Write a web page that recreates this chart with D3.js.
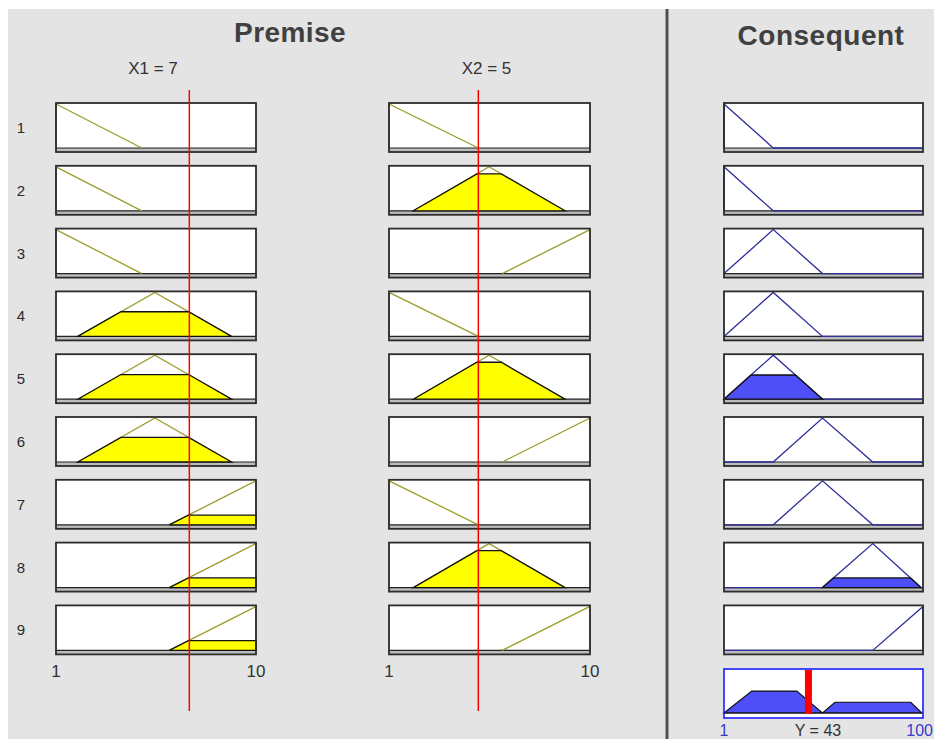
<!DOCTYPE html>
<html>
<head>
<meta charset="utf-8">
<script src="https://cdn.jsdelivr.net/npm/d3@7"></script>
<style>
  body { margin: 0; background: #fff; }
  text { font-family: Arial, "Liberation Sans", sans-serif; }
</style>
</head>
<body>
<svg id="chart" width="934" height="739"></svg>
<script>
const ruleIds = [1, 2, 3, 4, 5, 6, 7, 8, 9];
const inputNames = ["X1", "X2"];
const inputValues = [7, 5];
const inputRange = [1, 10];
const outputRange = [1, 100];
const inputTicks = [1, 10];
const outputTicks = [1, 100];

// membership functions as [a, b, c, d] (triangle when b == c)
const x1Mfs = [[1, 1, 1, 4.86], [1.98, 5.45, 5.45, 8.9], [6.1, 10, 10, 10]];
const x2Mfs = [[1, 1, 1, 5], [2.09, 5.48, 5.48, 8.88], [6.07, 10, 10, 10]];
const yMfs = [[1, 1, 1, 25.5], [1, 25.5, 25.5, 50], [25.5, 50, 50, 75], [50, 75, 75, 99], [75, 100, 100, 100]];

const ruleX1 = [0, 0, 0, 1, 1, 1, 2, 2, 2];
const ruleX2 = [0, 1, 2, 0, 1, 2, 0, 1, 2];
const ruleY = [0, 0, 1, 1, 1, 2, 2, 3, 4];

const x1Degrees = [0, 0.56, 0.22];
const x2Degrees = [0, 0.84, 0];
const ruleStrengths = [0, 0, 0, 0, 0.55, 0, 0, 0.22, 0];

const aggregate = [[1, 0], [14.8, 0.51], [37.2, 0.51], [50, 0], [56.2, 0.25], [93.9, 0.25], [99.4, 0]];
const outputValue = 43;

// layout
const svg = d3.select("#chart");
const boxH = 49;
const rowTop = i => 103 + i * 62.8;
const cols = [
    { x: 56, w: 200 },
    { x: 389, w: 201 },
    { x: 724, w: 199 }
];
const olive = "#9c9c2c";
const navy = "#2e2e9c";

svg.append("rect")
    .attr("x", 8).attr("y", 9)
    .attr("width", 926).attr("height", 730)
    .attr("fill", "#e4e4e4");

// divider between premise and consequent
svg.append("line")
    .attr("x1", 667).attr("x2", 667)
    .attr("y1", 9).attr("y2", 739)
    .attr("stroke", "#505050")
    .attr("stroke-width", 3);

svg.append("text")
    .attr("x", 290).attr("y", 42)
    .text("Premise")
    .style("font-size", "28px").style("font-weight", "bold")
    .style("letter-spacing", "0.4px")
    .style("text-anchor", "middle").style("fill", "#404040");

svg.append("text")
    .attr("x", 821).attr("y", 45)
    .text("Consequent")
    .style("font-size", "28px").style("font-weight", "bold")
    .style("letter-spacing", "0.5px")
    .style("text-anchor", "middle").style("fill", "#404040");

function clipped(p, h) {
    return [[p[0], 0], [p[0] + h * (p[1] - p[0]), h], [p[3] - h * (p[3] - p[2]), h], [p[3], 0]];
}

function drawBox(col, top, mf, degree, domain, isOutput) {
    let xScale = d3.scaleLinear().domain(domain).range([col.x, col.x + col.w]);
    let yScale = d3.scaleLinear().domain([0, 1]).range([top + 45, top + 1]);
    let line = d3.line().x(d => xScale(d[0])).y(d => yScale(d[1]));
    let g = svg.append("g");

    g.append("rect")
        .attr("x", col.x).attr("y", top)
        .attr("width", col.w).attr("height", boxH)
        .attr("fill", "#fff");
    g.append("rect")
        .attr("x", col.x).attr("y", top + 45)
        .attr("width", col.w).attr("height", boxH - 45)
        .attr("fill", "#bcbcbc");
    g.append("line")
        .attr("x1", col.x).attr("x2", col.x + col.w)
        .attr("y1", yScale(0)).attr("y2", yScale(0))
        .attr("stroke", "#222").attr("stroke-width", 1.2);

    let pts = [[mf[0], 0], [mf[1], 1], [mf[2], 1], [mf[3], 0]];
    if (isOutput) pts = [[domain[0], 0]].concat(pts, [[domain[1], 0]]);
    g.append("path")
        .attr("d", line(pts))
        .attr("fill", "none")
        .attr("stroke", isOutput ? navy : olive)
        .attr("stroke-width", 1.3);

    if (degree > 0) {
        g.append("path")
            .attr("d", line(clipped(mf, degree)) + "Z")
            .attr("fill", isOutput ? "#4f4ff8" : "#ffff00")
            .attr("stroke", "#111")
            .attr("stroke-width", 1.3);
    }

    g.append("rect")
        .attr("x", col.x).attr("y", top)
        .attr("width", col.w).attr("height", boxH)
        .attr("fill", "none")
        .attr("stroke", "#2c2c2c")
        .attr("stroke-width", 1.8);
}

ruleIds.forEach((id, i) => {
    let top = rowTop(i);
    svg.append("text")
        .attr("x", 21).attr("y", top + 30)
        .text(id)
        .style("font-size", "15px")
        .style("text-anchor", "middle").style("fill", "#2a2a2a");
    drawBox(cols[0], top, x1Mfs[ruleX1[i]], x1Degrees[ruleX1[i]], inputRange, false);
    drawBox(cols[1], top, x2Mfs[ruleX2[i]], x2Degrees[ruleX2[i]], inputRange, false);
    drawBox(cols[2], top, yMfs[ruleY[i]], ruleStrengths[i], outputRange, true);
});

// input labels, ticks and red value lines
inputNames.forEach((name, k) => {
    let col = cols[k];
    let xScale = d3.scaleLinear().domain(inputRange).range([col.x, col.x + col.w]);
    svg.append("text")
        .attr("x", col.x + col.w / 2 - 3).attr("y", 74)
        .text(name + " = " + inputValues[k])
        .style("font-size", "17px")
        .style("text-anchor", "middle").style("fill", "#333");
    inputTicks.forEach(t => {
        svg.append("text")
            .attr("x", xScale(t)).attr("y", 677)
            .text(t)
            .style("font-size", "17px")
            .style("text-anchor", "middle").style("fill", "#333");
    });
    svg.append("line")
        .attr("x1", xScale(inputValues[k])).attr("x2", xScale(inputValues[k]))
        .attr("y1", 90).attr("y2", 711)
        .attr("stroke", "#ff0000")
        .attr("stroke-width", 1.5);
});

// aggregated output
let aggTop = 669;
let aggCol = cols[2];
let aggX = d3.scaleLinear().domain(outputRange).range([aggCol.x, aggCol.x + aggCol.w]);
let aggY = d3.scaleLinear().domain([0, 1]).range([aggTop + 44, aggTop + 1]);
let aggLine = d3.line().x(d => aggX(d[0])).y(d => aggY(d[1]));

svg.append("rect")
    .attr("x", aggCol.x).attr("y", aggTop)
    .attr("width", aggCol.w).attr("height", boxH)
    .attr("fill", "#fff");
svg.append("path")
    .attr("d", aggLine(aggregate) + "Z")
    .attr("fill", "#4f4ff8")
    .attr("stroke", "#111")
    .attr("stroke-width", 1.2);
svg.append("line")
    .attr("x1", aggCol.x).attr("x2", aggCol.x + aggCol.w)
    .attr("y1", aggY(0)).attr("y2", aggY(0))
    .attr("stroke", "#111").attr("stroke-width", 1.2);
svg.append("rect")
    .attr("x", aggX(outputValue) - 3.5).attr("y", aggY(1))
    .attr("width", 7).attr("height", aggY(0) - aggY(1) + 1)
    .attr("fill", "#ff0000");
svg.append("rect")
    .attr("x", aggCol.x).attr("y", aggTop)
    .attr("width", aggCol.w).attr("height", boxH)
    .attr("fill", "none")
    .attr("stroke", "#1c1cff")
    .attr("stroke-width", 1.6);

// last tick label is pushed to end at the right edge so it stays readable
outputTicks.forEach((t, i) => {
    let last = i === outputTicks.length - 1;
    svg.append("text")
        .attr("x", last ? 933 : aggX(t)).attr("y", 736)
        .text(t)
        .style("font-size", "16px")
        .style("text-anchor", last ? "end" : "middle").style("fill", "#3a3ad0");
});
svg.append("text")
    .attr("x", 818).attr("y", 736)
    .text("Y = " + outputValue)
    .style("font-size", "16px")
    .style("text-anchor", "middle").style("fill", "#333");
</script>
</body>
</html>
